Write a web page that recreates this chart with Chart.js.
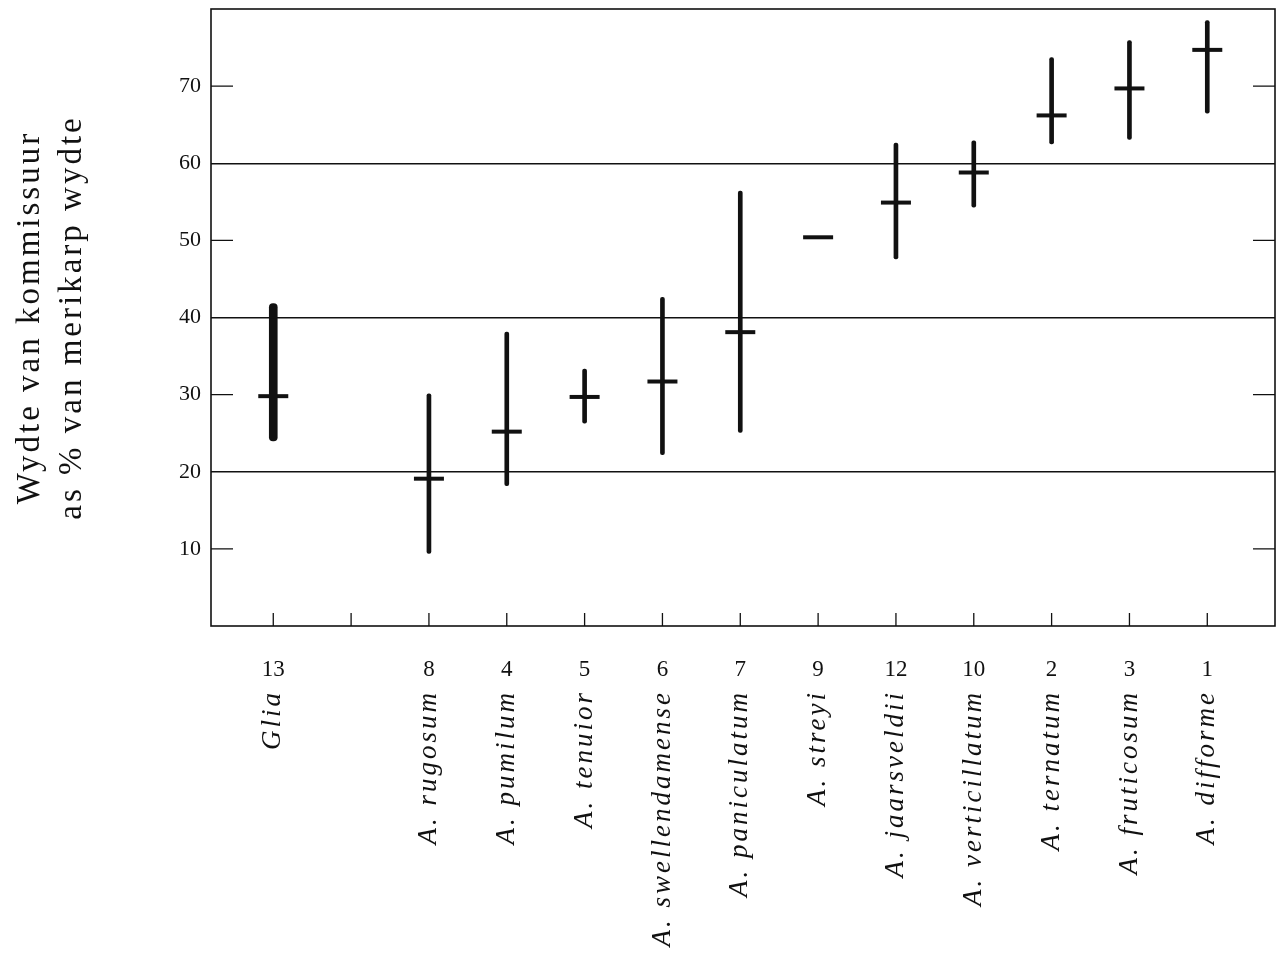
<!DOCTYPE html>
<html>
<head>
<meta charset="utf-8">
<script src="https://cdn.jsdelivr.net/npm/chart.js@4/dist/chart.umd.min.js"></script>
<style>
  html, body { margin: 0; padding: 0; background: #fff; }
  #wrap { width: 1283px; height: 962px; position: relative; }
</style>
</head>
<body>
<div id="wrap"><canvas id="myChart"></canvas></div>
<script>
// species along the x axis (slot 1 is an empty spacer tick)
const species = ['Glia', '', 'A. rugosum', 'A. pumilum', 'A. tenuior', 'A. swellendamense', 'A. paniculatum',
  'A. streyi', 'A. jaarsveldii', 'A. verticillatum', 'A. ternatum', 'A. fruticosum', 'A. difforme'];
const speciesNumbers = ['13', '', '8', '4', '5', '6', '7', '9', '12', '10', '2', '3', '1'];

// width of commissure as % of mericarp width: range and mean
const lowValues  = [24.0, null,  9.4, 18.2, 26.3, 22.2, 25.1, null, 47.6, 54.3, 62.5, 63.1, 66.5];
const highValues = [41.8, null, 30.1, 38.1, 33.3, 42.6, 56.4, null, 62.6, 62.9, 73.7, 75.9, 78.5];
const meanValues = [29.8, null, 19.1, 25.2, 29.7, 31.7, 38.1, 50.4, 54.9, 58.8, 66.2, 69.7, 74.7];

const yTickValues = [10, 20, 30, 40, 50, 60, 70];
const gridValues = [20, 40, 60];
const shortTickValues = [10, 30, 50, 70];

const serif = '"Liberation Serif", "DejaVu Serif", serif';
const ink = '#111';

// build datasets
let gliaRange = [];
let otherRanges = [];
let meanPoints = [];
species.forEach((name, i) => {
  if (lowValues[i] !== null && highValues[i] !== null) {
    const item = { x: i, y: [lowValues[i], highValues[i]] };
    if (i === 0) gliaRange.push(item); else otherRanges.push(item);
  }
  if (meanValues[i] !== null) meanPoints.push({ x: i, y: meanValues[i] });
});

// frame, short inner ticks on both sides, small x ticks
const framePlugin = {
  id: 'frame',
  beforeDatasetsDraw(chart) {
    const { ctx, chartArea: a, scales: { x, y } } = chart;
    ctx.save();
    ctx.strokeStyle = ink;
    ctx.lineWidth = 1.6;
    ctx.strokeRect(a.left, a.top, a.right - a.left, a.bottom - a.top);
    ctx.lineWidth = 1.3;
    ctx.beginPath();
    shortTickValues.forEach(v => {
      const py = y.getPixelForValue(v);
      ctx.moveTo(a.left, py); ctx.lineTo(a.left + 22, py);
      ctx.moveTo(a.right, py); ctx.lineTo(a.right - 22, py);
    });
    species.forEach((s, i) => {
      const px = x.getPixelForValue(i);
      ctx.moveTo(px, a.bottom); ctx.lineTo(px, a.bottom - 13);
    });
    ctx.stroke();
    ctx.restore();
  }
};

// the scan is stretched vertically, so the upright texts (drawn in the
// z=1 layers, after the datasets) get a little letter spacing
const spacingPlugin = {
  id: 'spacing',
  beforeDraw(chart) { chart.ctx.letterSpacing = '0px'; },
  afterDatasetsDraw(chart) { chart.ctx.letterSpacing = '3px'; },
  afterDraw(chart) { chart.ctx.letterSpacing = '0px'; }
};

const slotTicks = s => { s.ticks = species.map((n, i) => ({ value: i })); };
const noPadding = s => { s.paddingLeft = 0; s.paddingRight = 0; s.paddingTop = 0; s.paddingBottom = 0; };

let ctx = document.getElementById('myChart').getContext('2d');
let myChart = new Chart(ctx, {
  type: 'bar',
  data: {
    datasets: [
      { type: 'bar', data: gliaRange, barThickness: 8, backgroundColor: ink, borderRadius: 4, borderSkipped: false, grouped: false },
      { type: 'bar', data: otherRanges, barThickness: 4, backgroundColor: ink, borderRadius: 2, borderSkipped: false, grouped: false },
      { type: 'scatter', data: meanPoints, pointStyle: 'line', pointRadius: 15, pointHoverRadius: 15, borderWidth: 4, borderColor: ink, showLine: false }
    ]
  },
  options: {
    responsive: true,
    maintainAspectRatio: false,
    animation: false,
    events: [],
    layout: { autoPadding: false, padding: { top: 9, right: 8, left: 0, bottom: 0 } },
    plugins: { legend: { display: false }, tooltip: { enabled: false } },
    scales: {
      x: {
        type: 'linear', min: -0.8, max: 12.87, offset: false, position: 'bottom', weight: 0,
        afterBuildTicks: slotTicks,
        afterFit: s => { s.height = 60; noPadding(s); },
        grid: { display: false, drawTicks: false, offset: false },
        border: { display: false },
        ticks: {
          autoSkip: false, minRotation: 0, maxRotation: 0, padding: 30, color: ink,
          font: { family: serif, size: 23 },
          callback: (v, i) => speciesNumbers[i]
        }
      },
      x2: {
        type: 'linear', min: -0.8, max: 12.87, offset: false, position: 'bottom', weight: 1,
        afterBuildTicks: slotTicks,
        afterFit: s => { s.height = 276; noPadding(s); },
        grid: { display: false, drawTicks: false, z: 1 },
        border: { display: false },
        ticks: {
          z: 1, autoSkip: false, minRotation: 90, maxRotation: 90, padding: 4, color: ink,
          font: { family: serif, size: 27, style: 'italic' },
          callback: (v, i) => species[i]
        }
      },
      y: {
        min: 0, max: 80,
        afterFit: s => { s.width = 211; noPadding(s); },
        grid: {
          z: 1,
          drawTicks: false,
          lineWidth: 1.4,
          color: c => gridValues.includes(c.tick.value) ? ink : 'rgba(0,0,0,0)'
        },
        border: { display: false },
        ticks: {
          z: 0, stepSize: 10, padding: 10, color: ink,
          font: { family: serif, size: 22 },
          callback: v => yTickValues.includes(v) ? v : ''
        },
        title: {
          display: true,
          text: ['Wydte van kommissuur', 'as % van merikarp wydte'],
          color: ink,
          font: { family: serif, size: 33, lineHeight: 1.27 },
          padding: { top: 9, bottom: 0 }
        }
      }
    }
  },
  plugins: [spacingPlugin, framePlugin]
});
</script>
</body>
</html>
